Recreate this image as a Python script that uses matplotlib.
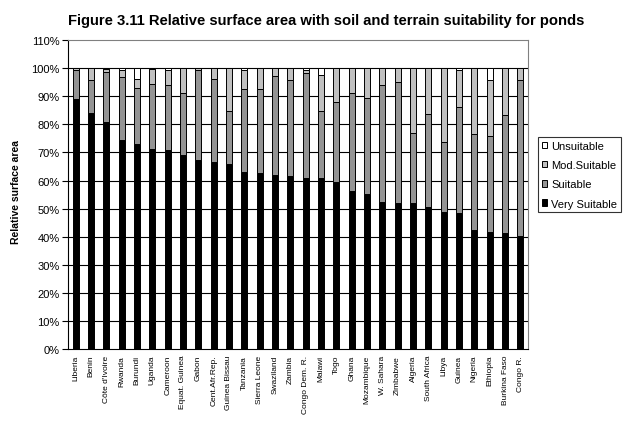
import numpy as np
import matplotlib
matplotlib.use('Agg')
import matplotlib.pyplot as plt
from matplotlib.patches import Patch

plt.rcParams['font.family'] = ['Liberation Sans', 'DejaVu Sans']

paises = ["Liberia", "Benin", "Côte d'Ivoire", "Rwanda", "Burundi", "Uganda",
          "Cameroon", "Equat. Guinea", "Gabon", "Cent.Afr.Rep.", "Guinea Bissau",
          "Tanzania", "Sierra Leone", "Swaziland", "Zambia", "Congo Dem. R.",
          "Malawi", "Togo", "Ghana", "Mozambique", "W. Sahara", "Zimbabwe",
          "Algeria", "South Africa", "Libya", "Guinea", "Nigeria", "Ethiopia",
          "Burkina Faso", "Congo R."]

very_suitable = [89.0, 84.1, 80.8, 74.5, 73.0, 71.3, 70.9, 69.0, 67.4, 66.5,
                 65.9, 63.1, 62.7, 62.0, 61.7, 61.0, 60.8, 59.5, 56.2, 55.3,
                 52.3, 52.0, 51.9, 50.6, 48.8, 48.5, 42.5, 41.7, 41.4, 40.2]
suitable = [10.5, 11.7, 17.8, 22.5, 20.0, 23.1, 23.1, 22.3, 32.0, 29.7,
            18.7, 29.6, 29.7, 35.1, 33.9, 37.3, 23.9, 28.6, 34.8, 34.1,
            41.8, 43.2, 25.2, 33.2, 25.1, 37.5, 34.1, 34.1, 42.1, 55.4]
mod_suitable = [0.5, 4.2, 1.2, 2.5, 3.2, 5.2, 5.2, 8.7, 0.6, 3.8,
                15.4, 6.8, 7.6, 2.9, 4.4, 1.2, 12.9, 11.9, 9.0, 10.6,
                5.9, 4.8, 22.9, 16.2, 26.1, 13.2, 23.4, 19.8, 16.5, 4.4]
unsuitable = [0.0, 0.0, 0.2, 0.5, 3.8, 0.4, 0.8, 0.0, 0.0, 0.0,
              0.0, 0.5, 0.0, 0.0, 0.0, 0.5, 2.4, 0.0, 0.0, 0.0,
              0.0, 0.0, 0.0, 0.0, 0.0, 0.8, 0.0, 4.4, 0.0, 0.0]

series = [very_suitable, suitable, mod_suitable, unsuitable]
nombres = ['Very Suitable', 'Suitable', 'Mod.Suitable', 'Unsuitable']
colores = ['#000000', '#949494', '#c0c0c0', '#ffffff']

fig = plt.figure(figsize=(6.25, 4.27), dpi=100)
ax = fig.add_axes([68/625, 1 - 350.3/427, 460/625, 309.3/427])

x = np.arange(len(paises))
base = np.zeros(len(paises))
for vals, nom, col in zip(series, nombres, colores):
    vals = np.array(vals)
    ax.bar(x, vals, 0.4, bottom=base, color=col, edgecolor='black',
           linewidth=0.7, label=nom, zorder=3)
    base = base + vals

ax.set_xlim(-0.5, len(paises) - 0.5)
ax.set_ylim(0, 110)
ax.set_yticks(np.arange(0, 111, 10))
ax.set_yticklabels([f'{v}%' for v in range(0, 111, 10)], fontsize=8)
ax.set_xticks(x)
ax.set_xticklabels(paises, rotation=90, fontsize=6)
ax.tick_params(axis='x', length=0, pad=4)
ax.tick_params(axis='y', length=4, width=0.8, direction='out', pad=2)

for v in range(10, 101, 10):
    ax.axhline(v, color='black', linewidth=0.8, zorder=1)

ax.spines['top'].set_color('#808080')
ax.spines['right'].set_color('#808080')
ax.spines['left'].set_linewidth(0.8)
ax.spines['bottom'].set_linewidth(0.8)

handles = [Patch(facecolor=c, edgecolor='black', linewidth=0.7, label=n)
           for n, c in zip(nombres, colores)][::-1]
leg = fig.legend(handles=handles, loc='upper left',
                 bbox_to_anchor=(538/625, 1 - 138/427), fontsize=8,
                 frameon=True, fancybox=False, handlelength=0.5,
                 handleheight=0.5, handletextpad=0.35, labelspacing=0.83,
                 borderpad=0.35, borderaxespad=0)
leg.get_frame().set_edgecolor('black')
leg.get_frame().set_linewidth(0.8)

fig.text(326/625, 1 - 21/427,
         'Figure 3.11 Relative surface area with soil and terrain suitability for ponds',
         ha='center', va='center', fontsize=10.6, fontweight='bold')
fig.text(16/625, 1 - 192/427, 'Relative surface area', rotation=90,
         ha='center', va='center', fontsize=7.5, fontweight='bold')

fig.savefig('out.png', dpi=100)
